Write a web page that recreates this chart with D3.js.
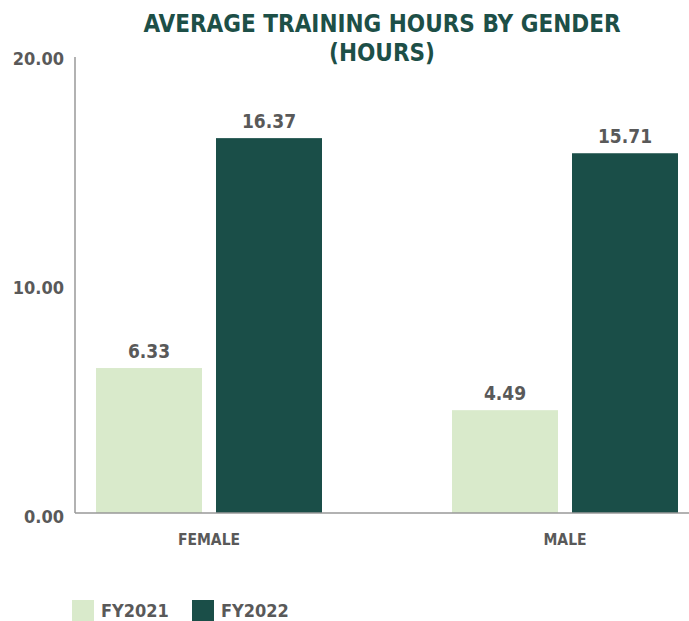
<!DOCTYPE html>
<html>
<head>
<meta charset="utf-8">
<script src="https://cdn.jsdelivr.net/npm/d3@7"></script>
<style>
  body { margin: 0; background: #fff; }
  svg text { font-family: "Liberation Sans Narrow", "DejaVu Sans Condensed", "Roboto Condensed", sans-serif; font-weight: bold; font-stretch: condensed; }
</style>
</head>
<body>
<svg id="chart" width="689" height="621"></svg>
<script>
// data
var categories = ['FEMALE', 'MALE'];
var series = ['FY2021', 'FY2022'];
var fy2021 = [6.33, 4.49];
var fy2022 = [16.37, 15.71];
var yTicks = [0, 10, 20];
var titleLines = ['AVERAGE TRAINING HOURS BY GENDER', '(HOURS)'];

var colors = { FY2021: '#d9eacb', FY2022: '#1a4e48' };
var textGray = '#595959';

var svg = d3.select('#chart');
var W = 689;

var rows = categories.map(function (c, i) {
  return { cat: c, FY2021: fy2021[i], FY2022: fy2022[i] };
});

var y = d3.scaleLinear().domain([0, 20]).range([513, 55]);
var x0 = d3.scaleBand().domain(categories).range([31, 743]).padding(0);
var x1 = d3.scaleBand().domain(series).range([-113, 113]).paddingInner(0.1167);

// title
svg.selectAll('.title')
  .data(titleLines)
  .enter().append('text')
  .attr('class', 'title')
  .attr('x', 382)
  .attr('y', function (d, i) { return 32 + i * 29; })
  .attr('text-anchor', 'middle')
  .attr('fill', '#1d4f47')
  .style('font-size', '24px')
  .text(function (d) { return d; });

// y axis
var yAxis = d3.axisLeft(y)
  .tickValues(yTicks)
  .tickSize(0)
  .tickPadding(11)
  .tickFormat(d3.format('.2f'));

var gy = svg.append('g')
  .attr('transform', 'translate(75,0)')
  .call(yAxis);
gy.select('.domain').remove();
gy.selectAll('text')
  .attr('fill', textGray)
  .attr('dy', '0.55em')
  .style('font-size', '18px')
  .style('font-family', null);

svg.append('line')
  .attr('x1', 75).attr('x2', 75)
  .attr('y1', y(20) + 2).attr('y2', y(0))
  .attr('stroke', '#999').attr('stroke-width', 1.5);

// bars
var groups = svg.selectAll('.grp')
  .data(rows)
  .enter().append('g')
  .attr('class', 'grp')
  .attr('transform', function (d) { return 'translate(' + (x0(d.cat) + x0.bandwidth() / 2) + ',0)'; });

groups.selectAll('rect')
  .data(function (d) { return series.map(function (s) { return { s: s, v: d[s] }; }); })
  .enter().append('rect')
  .attr('x', function (d) { return x1(d.s); })
  .attr('width', x1.bandwidth())
  .attr('y', function (d) { return y(d.v); })
  .attr('height', function (d) { return y(0) - y(d.v); })
  .attr('fill', function (d) { return colors[d.s]; });

groups.selectAll('.val')
  .data(function (d) { return series.map(function (s) { return { s: s, v: d[s] }; }); })
  .enter().append('text')
  .attr('class', 'val')
  .attr('x', function (d) { return x1(d.s) + x1.bandwidth() / 2; })
  .attr('y', function (d) { return y(d.v) - 10; })
  .attr('text-anchor', 'middle')
  .attr('fill', textGray)
  .style('font-size', '19px')
  .text(function (d) { return d3.format('.2f')(d.v); });

// x axis
svg.append('line')
  .attr('x1', 75).attr('x2', W)
  .attr('y1', y(0)).attr('y2', y(0))
  .attr('stroke', '#999').attr('stroke-width', 1.5);

svg.selectAll('.cat')
  .data(categories)
  .enter().append('text')
  .attr('class', 'cat')
  .attr('x', function (d) { return x0(d) + x0.bandwidth() / 2; })
  .attr('y', 545)
  .attr('text-anchor', 'middle')
  .attr('fill', textGray)
  .style('font-size', '15.5px')
  .text(function (d) { return d; });

// legend
var legend = svg.selectAll('.leg')
  .data(series)
  .enter().append('g')
  .attr('class', 'leg')
  .attr('transform', function (d, i) { return 'translate(' + (72 + i * 120) + ',600)'; });

legend.append('rect')
  .attr('width', 22).attr('height', 21)
  .attr('fill', function (d) { return colors[d]; });

legend.append('text')
  .attr('x', 29)
  .attr('y', 17)
  .attr('fill', textGray)
  .style('font-size', '18px')
  .text(function (d) { return d; });
</script>
</body>
</html>
